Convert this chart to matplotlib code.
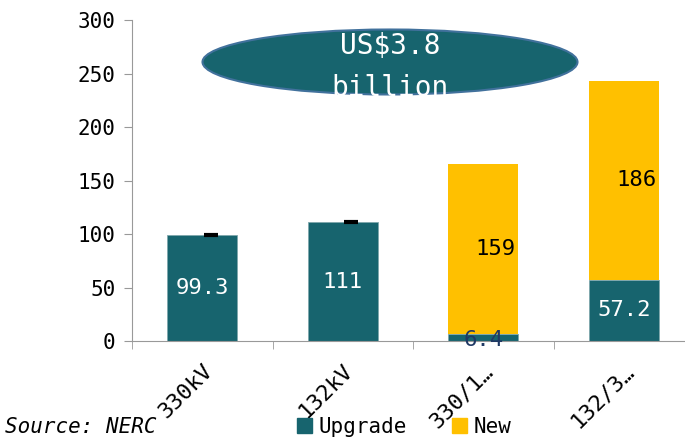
import numpy as np
import matplotlib
matplotlib.use("Agg")
import matplotlib.pyplot as plt
from matplotlib.patches import Ellipse, Patch

# data
categories = ["330kV", "132kV", "330/1…", "132/3…"]
upgrade = [99.3, 111, 6.4, 57.2]
new = [0, 0, 159, 186]
upgrade_labels = ["99.3", "111", "6.4", "57.2"]
new_labels = ["", "", "159", "186"]

teal = "#17646E"
gold = "#FFC000"

plt.rcParams["font.family"] = ["DejaVu Sans Mono"]

fig = plt.figure(figsize=(6.85, 4.4), dpi=100)
ax = fig.add_axes([132 / 685, 99 / 440, 562 / 685, 321 / 440])

x = np.arange(len(categories))
upgrade = np.array(upgrade)
new = np.array(new)
ax.bar(x, upgrade, width=0.5, color=teal, edgecolor="#7FA7AC", linewidth=0.6, zorder=2)
ax.bar(x, new, width=0.5, bottom=upgrade, color=gold, zorder=2)

# tiny marks where the New segment is zero
zero = new == 0
ax.plot(x[zero] + 0.06, (upgrade + new)[zero], ls="none", marker="_",
        ms=10, mew=3, color="black", zorder=3)

for i in range(len(x)):
    if upgrade[i] > 20:
        ax.text(x[i], upgrade[i] / 2, upgrade_labels[i], ha="center", va="center",
                color="white", fontsize=16)
    else:
        ax.text(x[i], upgrade[i] / 2 - 2, upgrade_labels[i], ha="center", va="center",
                color="#1F3864", fontsize=16)
    if new_labels[i]:
        ax.text(x[i] + 0.23, upgrade[i] + new[i] / 2, new_labels[i], ha="right",
                va="center", color="black", fontsize=16)

ax.set_ylim(0, 300)
ax.set_xlim(-0.5, 3.5)
ax.set_yticks(np.arange(0, 301, 50))
ax.set_xticks(x)
ax.set_xticklabels(categories, rotation=45, ha="right", rotation_mode="anchor")
ax.set_xticks(np.arange(-0.5, 4, 1), minor=True)
ax.tick_params(axis="x", which="major", length=0, labelsize=16, pad=14)
ax.tick_params(axis="x", which="minor", length=6, color="#999999")
ax.tick_params(axis="y", length=6, color="#999999", labelsize=15, pad=6)
for s in ["top", "right"]:
    ax.spines[s].set_visible(False)
for s in ["left", "bottom"]:
    ax.spines[s].set_color("#999999")

ell = Ellipse((390 / 685, 1 - 62 / 440), 375 / 685, 65 / 440, transform=fig.transFigure,
              facecolor=teal, edgecolor="#41719C", linewidth=1.5)
fig.add_artist(ell)
fig.text(390 / 685, 1 - 67 / 440, "US$3.8\nbillion", ha="center", va="center",
         color="white", fontsize=20, linespacing=1.6)

handles = [Patch(color=teal), Patch(color=gold)]
fig.legend(handles, ["Upgrade", "New"], loc="center", bbox_to_anchor=(0.59, 0.03),
           ncol=2, frameon=False, fontsize=15, handlelength=0.7, handleheight=0.7,
           handletextpad=0.3, columnspacing=2.2)
fig.text(0.007, 0.03, "Source: NERC", style="italic", fontsize=15, va="center")

fig.savefig("out.png", dpi=100)
